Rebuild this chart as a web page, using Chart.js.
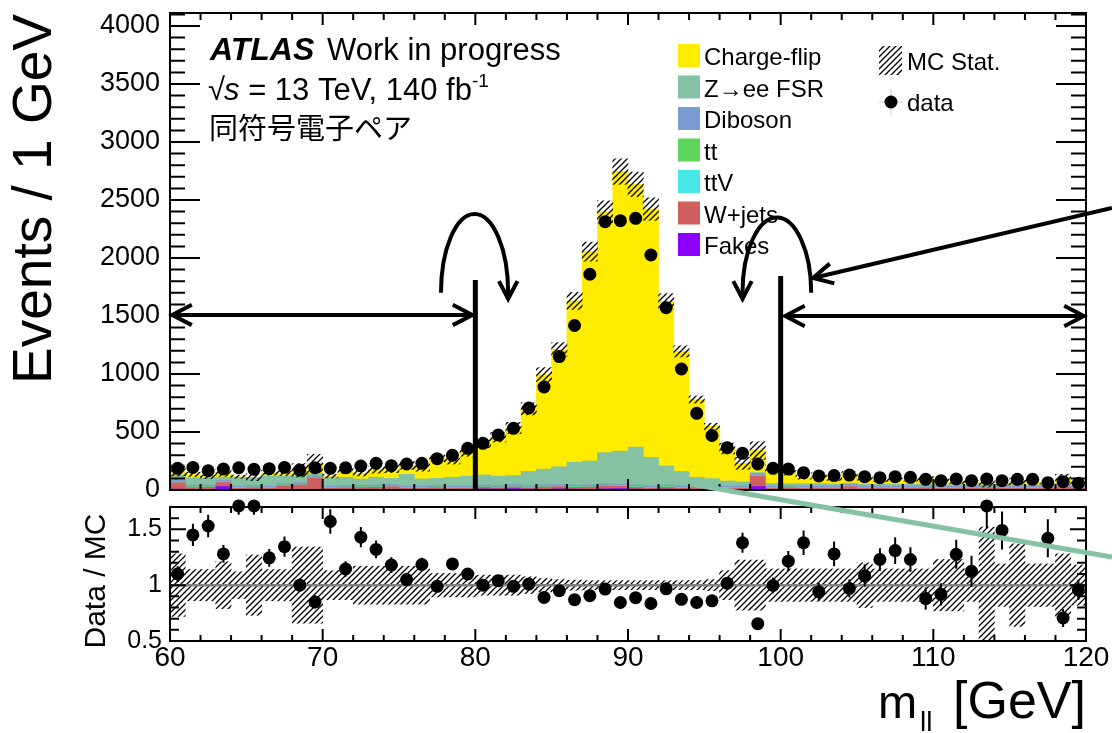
<!DOCTYPE html>
<html>
<head>
<meta charset="utf-8">
<script src="https://cdn.jsdelivr.net/npm/chart.js@4.4.1/dist/chart.umd.min.js"></script>
<style>
  html, body { margin: 0; padding: 0; background: #fff; }
  #wrap { position: relative; width: 1112px; height: 733px; overflow: hidden; }
  canvas { position: absolute; left: 0; }
</style>
</head>
<body>
<div id="wrap">
  <canvas id="ratioChart" width="1112" height="238" style="top:495px"></canvas>
  <canvas id="mainChart" width="1112" height="733" style="top:0"></canvas>
</div>
<script>
// bins of m_ll, 1 GeV wide
const binCenters = [60.5, 61.5, 62.5, 63.5, 64.5, 65.5, 66.5, 67.5, 68.5, 69.5,
  70.5, 71.5, 72.5, 73.5, 74.5, 75.5, 76.5, 77.5, 78.5, 79.5,
  80.5, 81.5, 82.5, 83.5, 84.5, 85.5, 86.5, 87.5, 88.5, 89.5,
  90.5, 91.5, 92.5, 93.5, 94.5, 95.5, 96.5, 97.5, 98.5, 99.5,
  100.5, 101.5, 102.5, 103.5, 104.5, 105.5, 106.5, 107.5, 108.5, 109.5,
  110.5, 111.5, 112.5, 113.5, 114.5, 115.5, 116.5, 117.5, 118.5, 119.5];

// MC stack, bottom to top
const fakes = [8, 6, 5, 30, 4, 5, 4, 6, 5, 4, 5, 4, 6, 5, 4, 5, 6, 5, 4, 5,
  10, 8, 12, 8, 6, 10, 8, 6, 10, 12, 8, 6, 8, 6, 5, 4, 4, 5, 30, 4,
  5, 4, 6, 4, 5, 4, 6, 4, 5, 4, 5, 4, 6, 4, 5, 4, 4, 6, 4, 8];
const wjets = [55, 15, 20, 35, 10, 15, 10, 30, 40, 100, 10, 15, 15, 20, 25, 10, 10, 15, 10, 10,
  15, 10, 15, 10, 20, 20, 15, 20, 25, 20, 15, 10, 15, 10, 15, 10, 10, 10, 90, 10,
  15, 10, 10, 10, 25, 10, 10, 10, 10, 15, 10, 10, 10, 15, 10, 10, 10, 10, 25, 10];
const ttV = [2, 2, 1, 2, 2, 2, 1, 2, 2, 2, 2, 1, 2, 2, 2, 2, 2, 1, 2, 2,
  2, 2, 2, 3, 2, 2, 3, 2, 2, 3, 2, 2, 2, 2, 2, 2, 2, 1, 2, 2,
  2, 2, 1, 2, 2, 2, 2, 2, 1, 2, 2, 2, 2, 2, 1, 2, 2, 2, 2, 2];
const ttbar = [6, 5, 5, 6, 5, 4, 5, 6, 5, 5, 6, 5, 5, 5, 6, 5, 5, 6, 5, 5,
  5, 6, 5, 5, 5, 6, 5, 5, 5, 5, 5, 5, 6, 5, 5, 5, 6, 5, 5, 5,
  5, 5, 6, 5, 5, 5, 5, 6, 5, 5, 5, 5, 5, 6, 5, 5, 5, 5, 6, 5];
const diboson = [11, 12, 13, 11, 12, 13, 12, 11, 12, 12, 11, 13, 12, 12, 11, 12, 12, 12, 12, 12,
  12, 11, 12, 11, 12, 11, 11, 12, 12, 11, 12, 12, 11, 12, 12, 12, 11, 13, 12, 12,
  12, 12, 12, 12, 12, 12, 12, 11, 13, 12, 12, 12, 12, 11, 13, 12, 12, 12, 11, 12];
const zeeFSR = [47, 65, 61, 26, 77, 66, 87, 65, 56, 22, 76, 72, 55, 66, 52, 101, 60, 61, 77, 86,
  86, 83, 79, 123, 135, 151, 198, 205, 268, 284, 328, 247, 165, 125, 71, 65, 45, 36, 11, 25,
  16, 22, 20, 19, 10, 17, 15, 17, 16, 12, 14, 15, 13, 7, 11, 12, 12, 5, 3, 8];
const chargeFlip = [40, 30, 10, 40, 5, 5, 30, 25, 50, 85, 10, 55, 50, 65, 80, 80, 100, 175, 140, 205,
  270, 335, 410, 540, 815, 1010, 1390, 1805, 2075, 2410, 2265, 2140, 1420, 1035, 670, 450, 280, 160, 190, 130,
  95, 55, 75, 45, 80, 55, 35, 38, 40, 55, 38, 25, 22, 10, 10, 30, 28, 5, 55, 15];

// relative MC statistical uncertainty per bin
const mcStatRel = [0.28, 0.14, 0.14, 0.21, 0.12, 0.27, 0.14, 0.14, 0.34, 0.34,
  0.13, 0.13, 0.17, 0.17, 0.17, 0.17, 0.17, 0.105, 0.105, 0.105,
  0.09, 0.09, 0.09, 0.075, 0.06, 0.05, 0.045, 0.04, 0.04, 0.04,
  0.04, 0.04, 0.04, 0.04, 0.04, 0.05, 0.13, 0.225, 0.225, 0.145,
  0.145, 0.145, 0.145, 0.145, 0.145, 0.2, 0.145, 0.145, 0.145, 0.145,
  0.23, 0.23, 0.145, 0.52, 0.19, 0.37, 0.19, 0.19, 0.28, 0.18];

// data
const dataCounts = [187, 195, 166, 181, 192, 178, 184, 195, 172, 192, 187, 192, 207, 230, 210, 224, 230, 270, 299, 359,
  402, 474, 532, 707, 888, 1150, 1418, 1860, 2313, 2322, 2342, 2026, 1572, 1043, 661, 470, 365, 316, 224, 187,
  181, 149, 121, 124, 129, 115, 106, 115, 109, 92, 80, 95, 80, 95, 80, 92, 92, 63, 72, 58];
const ratio = [1.10, 1.45, 1.53, 1.28, 1.71, 1.71, 1.245, 1.345, 1.0, 0.85,
  1.57, 1.145, 1.43, 1.32, 1.18, 1.05, 1.185, 0.99, 1.19, 1.10,
  1.0, 1.04, 0.99, 1.01, 0.89, 0.95, 0.87, 0.905, 0.965, 0.845,
  0.888, 0.836, 0.967, 0.873, 0.845, 0.86, 1.018, 1.38, 0.655, 0.997,
  1.215, 1.38, 0.94, 1.28, 0.97, 1.085, 1.23, 1.31, 1.23, 0.88,
  0.918, 1.276, 1.124, 1.71, 1.49, null, null, 1.42, 0.706, 0.958];
const ratioErr = [0.07, 0.1, 0.1, 0.08, 0.08, 0.08, 0.08, 0.09, 0.06, 0.06,
  0.11, 0.07, 0.09, 0.08, 0.07, 0.06, 0.06, 0.05, 0.05, 0.04,
  0.035, 0.03, 0.03, 0.025, 0.02, 0.02, 0.015, 0.015, 0.015, 0.012,
  0.012, 0.012, 0.015, 0.02, 0.025, 0.03, 0.045, 0.09, 0.05, 0.07,
  0.09, 0.11, 0.08, 0.11, 0.08, 0.1, 0.1, 0.12, 0.11, 0.1,
  0.1, 0.13, 0.14, 0.2, 0.17, 0, 0, 0.17, 0.08, 0.09];

const mainTicks = [0, 500, 1000, 1500, 2000, 2500, 3000, 3500, 4000];
const ratioTicks = [0.5, 1, 1.5];
const xTicks = [60, 70, 80, 90, 100, 110, 120];

const colors = {
  chargeFlip: '#ffec00', zeeFSR: '#85c1a3', diboson: '#7b9bd3', ttbar: '#5cd65c',
  ttV: '#48e8e8', wjets: '#d05f60', fakes: '#8b00ff'
};

// hand-drawn annotations, in axis units (GeV, events)
const cutLines = [{x: 80, top: 1810}, {x: 100, top: 1845}];
const rangeArrows = [{from: 60.15, to: 79.8, y: 1509}, {from: 100.3, to: 119.85, y: 1500}];
const loops = [{cx: 79.95, rx: 2.2, base: 1700, peak: 2380, toRight: true},
               {cx: 99.75, rx: 2.25, base: 1700, peak: 2350, toRight: false}];
const pointer = {x0: 121.7, y0: 2431, x1: 102.12, y1: 1828};
const fsrLine = {x0: 94.06, y0: 52, x1: 121.7, y1: -578};

const FONT = '"Liberation Sans", Arial, sans-serif';

function makeHatch(ctx) {
  const s = 6;
  const c = document.createElement('canvas');
  c.width = s; c.height = s;
  const g = c.getContext('2d');
  g.strokeStyle = '#000';
  g.lineWidth = 1.3;
  g.beginPath();
  g.moveTo(0, s); g.lineTo(s, 0);
  g.moveTo(-1, 1); g.lineTo(1, -1);
  g.moveTo(s - 1, s + 1); g.lineTo(s + 1, s - 1);
  g.stroke();
  return ctx.createPattern(c, 'repeat');
}

const mainCtx = document.getElementById('mainChart').getContext('2d');
const ratioCtx = document.getElementById('ratioChart').getContext('2d');
const hatchMain = makeHatch(mainCtx);
const hatchRatio = makeHatch(ratioCtx);

const pts = arr => arr.map((v, i) => ({x: binCenters[i], y: v}));
const mcTotal = binCenters.map((_, i) =>
  fakes[i] + wjets[i] + ttV[i] + ttbar[i] + diboson[i] + zeeFSR[i] + chargeFlip[i]);

function stackSet(values, color) {
  return {type: 'bar', data: pts(values), backgroundColor: color, borderWidth: 0,
    yAxisID: 'y', stack: 'mc', grouped: false, barPercentage: 1, categoryPercentage: 1, order: 2};
}

function fixAxis(width, height) {
  return function (s) {
    if (width !== null) s.width = width;
    if (height !== null) s.height = height;
    s.paddingTop = 0; s.paddingBottom = 0; s.paddingLeft = 0; s.paddingRight = 0;
  };
}

// ROOT-style inner ticks on all four sides
function frameAndTicks(chart, xLen, yVals, yLen) {
  const ctx = chart.ctx;
  const {left, right, top, bottom} = chart.chartArea;
  const xs = chart.scales.x, ys = chart.scales.y;
  ctx.save();
  ctx.strokeStyle = '#000';
  ctx.lineWidth = 2;
  ctx.beginPath();
  for (let k = 0; k <= 30; k++) {
    const v = 60 + 2 * k;
    const px = xs.getPixelForValue(v);
    const major = v % 10 === 0;
    ctx.moveTo(px, top); ctx.lineTo(px, top + (major ? xLen.topMajor : xLen.topMinor));
    ctx.moveTo(px, bottom); ctx.lineTo(px, bottom - (major ? xLen.botMajor : xLen.botMinor));
  }
  for (const t of yVals) {
    const py = ys.getPixelForValue(t.v);
    const len = t.major ? yLen.major : yLen.minor;
    ctx.moveTo(left, py); ctx.lineTo(left + len, py);
    ctx.moveTo(right, py); ctx.lineTo(right - len, py);
  }
  ctx.stroke();
  ctx.strokeRect(left, top, right - left, bottom - top);
  ctx.restore();
}

function arrowHead(ctx, x, y, angle, size) {
  const a = 0.48;
  ctx.beginPath();
  ctx.moveTo(x - size * Math.cos(angle - a), y - size * Math.sin(angle - a));
  ctx.lineTo(x, y);
  ctx.lineTo(x - size * Math.cos(angle + a), y - size * Math.sin(angle + a));
  ctx.stroke();
}

const mainDecor = {
  id: 'mainDecor',
  afterDraw(chart) {
    const ctx = chart.ctx;
    const xs = chart.scales.x, ys = chart.scales.y;
    const yVals = [];
    for (let k = 0; k <= 41; k++) yVals.push({v: 100 * k, major: k % 5 === 0});
    frameAndTicks(chart, {topMajor: 12, topMinor: 7, botMajor: 11, botMinor: 6}, yVals, {major: 30, minor: 15});

    ctx.save();
    ctx.fillStyle = '#000';
    // y title
    ctx.save();
    ctx.translate(36, 199);
    ctx.rotate(-Math.PI / 2);
    ctx.textAlign = 'center';
    ctx.textBaseline = 'middle';
    ctx.font = '55px ' + FONT;
    ctx.fillText('Events / 1 GeV', 0, 0);
    ctx.restore();

    // ATLAS label
    ctx.textAlign = 'left';
    ctx.textBaseline = 'alphabetic';
    ctx.font = 'italic bold 32px ' + FONT;
    ctx.fillText('ATLAS', 210, 60);
    ctx.font = '31px ' + FONT;
    ctx.fillText('Work in progress', 327, 60);
    ctx.fillText('\u221A', 208, 100);
    let x = 208 + ctx.measureText('\u221A').width - 1;
    ctx.font = 'italic 31px ' + FONT;
    ctx.fillText('s', x, 100);
    x += ctx.measureText('s').width;
    ctx.font = '31px ' + FONT;
    ctx.fillText(' = 13 TeV, 140 fb', x, 100);
    x += ctx.measureText(' = 13 TeV, 140 fb').width;
    ctx.font = '19px ' + FONT;
    ctx.fillText('-1', x, 87);
    ctx.font = '29px "Noto Sans CJK JP", sans-serif';
    ctx.fillText('同符号電子ペア', 209, 139);

    // legend
    const items = [['Charge-flip', colors.chargeFlip], ['Z\u2192ee FSR', colors.zeeFSR],
      ['Diboson', colors.diboson], ['tt', colors.ttbar], ['ttV', colors.ttV],
      ['W+jets', colors.wjets], ['Fakes', colors.fakes]];
    ctx.font = '24px ' + FONT;
    items.forEach((it, i) => {
      const t = 44 + i * 31.5;
      ctx.fillStyle = it[1];
      ctx.fillRect(678, t, 22, 23);
      ctx.fillStyle = '#000';
      ctx.fillText(it[0], 704, t + 21);
    });
    ctx.fillStyle = hatchMain;
    ctx.fillRect(879, 46, 23, 29);
    ctx.fillStyle = '#000';
    ctx.fillText('MC Stat.', 907, 70);
    ctx.beginPath();
    ctx.arc(891, 102, 6.5, 0, 2 * Math.PI);
    ctx.fill();
    ctx.lineWidth = 2;
    ctx.beginPath();
    ctx.moveTo(891, 89); ctx.lineTo(891, 115);
    ctx.moveTo(879, 102); ctx.lineTo(903, 102);
    ctx.stroke();
    ctx.fillText('data', 907, 111);

    // annotations
    ctx.strokeStyle = '#000';
    ctx.lineCap = 'butt';
    ctx.lineWidth = 5;
    for (const c of cutLines) {
      const px = xs.getPixelForValue(c.x);
      ctx.beginPath();
      ctx.moveTo(px, ys.getPixelForValue(c.top));
      ctx.lineTo(px, ys.getPixelForValue(0));
      ctx.stroke();
    }
    ctx.lineWidth = 4;
    ctx.lineJoin = 'miter';
    for (const a of rangeArrows) {
      const x0 = xs.getPixelForValue(a.from), x1 = xs.getPixelForValue(a.to), py = ys.getPixelForValue(a.y);
      ctx.beginPath();
      ctx.moveTo(x0, py); ctx.lineTo(x1, py);
      ctx.stroke();
      arrowHead(ctx, x1, py, 0, 22);
      arrowHead(ctx, x0, py, Math.PI, 22);
    }
    for (const l of loops) {
      const cx = xs.getPixelForValue(l.cx);
      const rx = xs.getPixelForValue(l.cx + l.rx) - cx;
      const cy = ys.getPixelForValue(l.base);
      const ry = cy - ys.getPixelForValue(l.peak);
      ctx.beginPath();
      if (l.toRight) {
        ctx.ellipse(cx, cy, rx, ry, 0, Math.PI, 2 * Math.PI, false);
        ctx.lineTo(cx + rx, cy + 4);
        ctx.stroke();
        arrowHead(ctx, cx + rx, cy + 6, Math.PI / 2, 20);
      } else {
        ctx.ellipse(cx, cy, rx, ry, 0, 2 * Math.PI, Math.PI, true);
        ctx.lineTo(cx - rx, cy + 4);
        ctx.stroke();
        arrowHead(ctx, cx - rx, cy + 6, Math.PI / 2, 20);
      }
    }
    {
      const x0 = xs.getPixelForValue(pointer.x0), y0 = ys.getPixelForValue(pointer.y0);
      const x1 = xs.getPixelForValue(pointer.x1), y1 = ys.getPixelForValue(pointer.y1);
      ctx.beginPath();
      ctx.moveTo(x0, y0); ctx.lineTo(x1, y1);
      ctx.stroke();
      arrowHead(ctx, x1, y1, Math.atan2(y1 - y0, x1 - x0), 22);
    }
    ctx.strokeStyle = colors.zeeFSR;
    ctx.lineWidth = 5;
    ctx.beginPath();
    ctx.moveTo(xs.getPixelForValue(fsrLine.x0), ys.getPixelForValue(fsrLine.y0));
    ctx.lineTo(xs.getPixelForValue(fsrLine.x1), ys.getPixelForValue(fsrLine.y1));
    ctx.stroke();
    ctx.restore();
  }
};

new Chart(mainCtx, {
  type: 'bar',
  data: {
    datasets: [
      {type: 'scatter', label: 'data', data: pts(dataCounts), yAxisID: 'yh',
        pointRadius: 6.5, pointBackgroundColor: '#000', pointBorderWidth: 0, clip: false, order: 0},
      {type: 'bar', label: 'MC Stat.', yAxisID: 'yh', grouped: false, barPercentage: 1, categoryPercentage: 1,
        data: mcTotal.map((m, i) => ({x: binCenters[i], y: [m * (1 - mcStatRel[i]), m * (1 + mcStatRel[i])]})),
        backgroundColor: hatchMain, borderWidth: 0, order: 1},
      stackSet(fakes, colors.fakes),
      stackSet(wjets, colors.wjets),
      stackSet(ttV, colors.ttV),
      stackSet(ttbar, colors.ttbar),
      stackSet(diboson, colors.diboson),
      stackSet(zeeFSR, colors.zeeFSR),
      stackSet(chargeFlip, colors.chargeFlip)
    ]
  },
  options: {
    responsive: false,
    animation: false,
    events: [],
    layout: {padding: {left: 0, right: 26, top: 13, bottom: 243}},
    plugins: {legend: {display: false}, tooltip: {enabled: false}},
    scales: {
      x: {type: 'linear', min: 60, max: 120, offset: false, display: false, grid: {offset: false}},
      y: {
        type: 'linear', stacked: true, min: 0, max: 4112, position: 'left',
        grid: {display: false, drawTicks: false}, border: {display: false},
        ticks: {color: '#000', font: {family: FONT, size: 27}, padding: 10, autoSkip: false,
          callback: v => String(v)},
        afterBuildTicks: s => { s.ticks = mainTicks.map(v => ({value: v})); },
        afterFit: fixAxis(170, null)
      },
      yh: {type: 'linear', min: 0, max: 4112, display: false}
    }
  },
  plugins: [mainDecor]
});

const ratioDecor = {
  id: 'ratioDecor',
  afterDraw(chart) {
    const ctx = chart.ctx;
    const xs = chart.scales.x, ys = chart.scales.y;
    const yVals = [];
    for (let k = 0; k <= 12; k++) yVals.push({v: 0.5 + 0.1 * k, major: k % 5 === 0});
    frameAndTicks(chart, {topMajor: 12, topMinor: 6, botMajor: 12, botMinor: 6}, yVals, {major: 16, minor: 9});

    ctx.save();
    // data error bars
    ctx.strokeStyle = '#000';
    ctx.lineWidth = 2;
    ctx.beginPath();
    ratio.forEach((r, i) => {
      if (r === null || !ratioErr[i]) return;
      const px = xs.getPixelForValue(binCenters[i]);
      const lo = Math.max(r - ratioErr[i], 0.5), hi = Math.min(r + ratioErr[i], 1.7);
      ctx.moveTo(px, ys.getPixelForValue(lo));
      ctx.lineTo(px, ys.getPixelForValue(hi));
    });
    ctx.stroke();

    ctx.fillStyle = '#000';
    ctx.save();
    ctx.translate(97, 86);
    ctx.rotate(-Math.PI / 2);
    ctx.textAlign = 'center';
    ctx.textBaseline = 'middle';
    ctx.font = '30px ' + FONT;
    ctx.fillText('Data / MC', 0, 0);
    ctx.restore();

    ctx.textBaseline = 'alphabetic';
    ctx.textAlign = 'left';
    ctx.font = '47px ' + FONT;
    ctx.fillText('m', 878, 223);
    ctx.font = '28px ' + FONT;
    ctx.fillText('ll', 920, 236);
    ctx.textAlign = 'right';
    ctx.font = '52px ' + FONT;
    ctx.fillText('[GeV]', 1086, 223);
    ctx.restore();
  }
};

new Chart(ratioCtx, {
  type: 'bar',
  data: {
    datasets: [
      {type: 'scatter', label: 'Data / MC', data: pts(ratio),
        pointRadius: 6.5, pointBackgroundColor: '#000', pointBorderWidth: 0, clip: false, order: 0},
      {type: 'line', label: 'unity', data: [{x: 60, y: 1}, {x: 120, y: 1}],
        borderColor: '#808080', borderWidth: 2.5, pointRadius: 0, order: 1},
      {type: 'bar', label: 'MC Stat.', grouped: false, barPercentage: 1, categoryPercentage: 1,
        data: mcStatRel.map((r, i) => ({x: binCenters[i], y: [1 - r, 1 + r]})),
        backgroundColor: hatchRatio, borderWidth: 0, order: 2}
    ]
  },
  options: {
    responsive: false,
    animation: false,
    events: [],
    layout: {padding: {left: 0, right: 26, top: 12, bottom: 0}},
    plugins: {legend: {display: false}, tooltip: {enabled: false}},
    scales: {
      x: {
        type: 'linear', min: 60, max: 120, offset: false,
        grid: {display: false, drawTicks: false, offset: false}, border: {display: false},
        ticks: {color: '#000', font: {family: FONT, size: 28}, padding: 0, maxRotation: 0, autoSkip: false,
          callback: v => String(v)},
        afterBuildTicks: s => { s.ticks = xTicks.map(v => ({value: v})); },
        afterFit: fixAxis(null, 92)
      },
      y: {
        type: 'linear', min: 0.5, max: 1.7, position: 'left',
        grid: {display: false, drawTicks: false}, border: {display: false},
        ticks: {color: '#000', font: {family: FONT, size: 25}, padding: 8, autoSkip: false,
          callback: v => String(v)},
        afterBuildTicks: s => { s.ticks = ratioTicks.map(v => ({value: v})); },
        afterFit: fixAxis(170, null)
      }
    }
  },
  plugins: [ratioDecor]
});
</script>
</body>
</html>
